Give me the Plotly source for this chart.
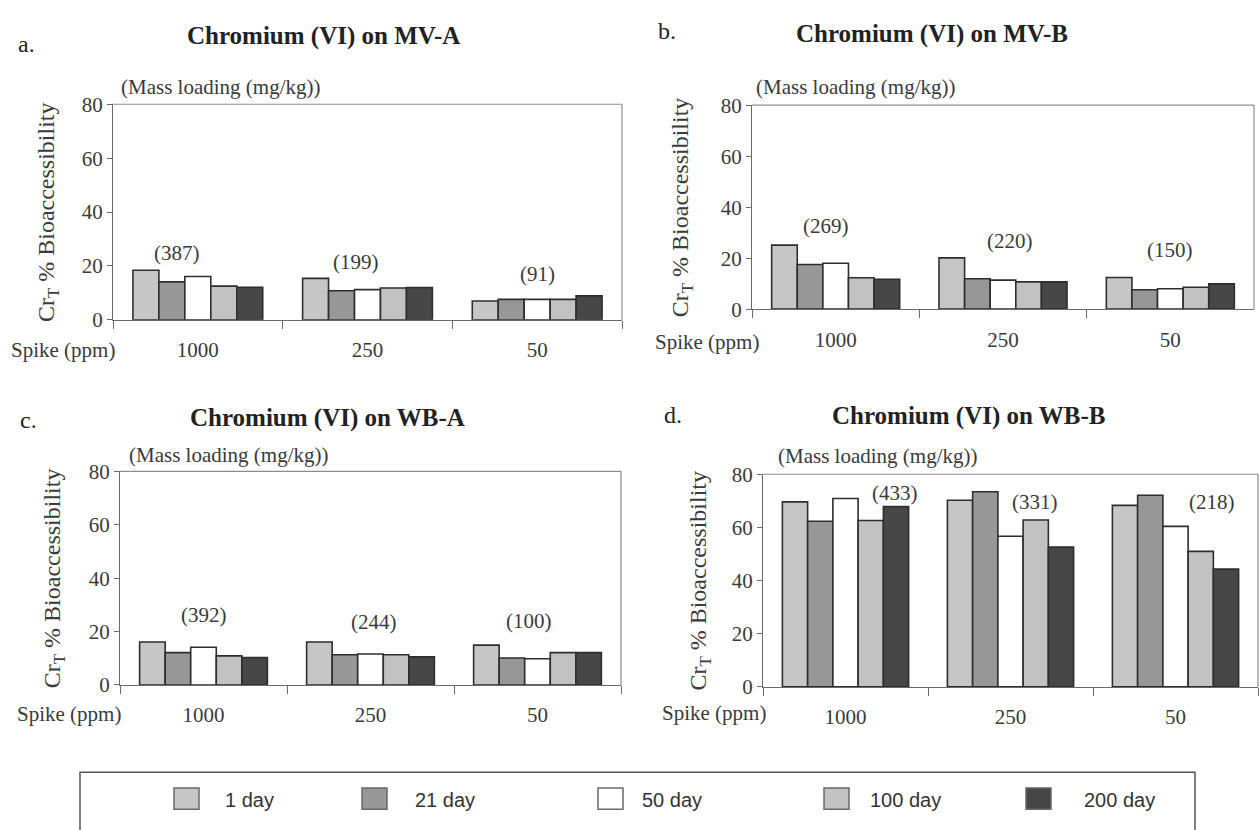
import plotly.graph_objects as go

# ---- data -------------------------------------------------------------
spike_ppm = ["1000", "250", "50"]
ages = ["1 day", "21 day", "50 day", "100 day", "200 day"]

# % bioaccessibility of total Cr, one list per ageing time, ordered by spike level
mv_a = {
    "1 day":   [18.4, 15.4, 7.0],
    "21 day":  [14.1, 10.8, 7.6],
    "50 day":  [16.1, 11.2, 7.6],
    "100 day": [12.5, 11.8, 7.6],
    "200 day": [12.1, 12.0, 8.9],
}
mv_b = {
    "1 day":   [25.1, 20.1, 12.4],
    "21 day":  [17.5, 11.9, 7.6],
    "50 day":  [18.0, 11.4, 8.0],
    "100 day": [12.3, 10.7, 8.6],
    "200 day": [11.7, 10.7, 9.9],
}
wb_a = {
    "1 day":   [16.1, 16.1, 14.9],
    "21 day":  [12.1, 11.3, 10.1],
    "50 day":  [14.1, 11.6, 9.8],
    "100 day": [10.9, 11.3, 12.1],
    "200 day": [10.3, 10.5, 12.1],
}
wb_b = {
    "1 day":   [69.6, 70.2, 68.3],
    "21 day":  [62.3, 73.4, 72.1],
    "50 day":  [70.9, 56.7, 60.4],
    "100 day": [62.6, 62.8, 51.0],
    "200 day": [67.8, 52.6, 44.3],
}

# mass loading (mg/kg) printed above each spike group
load_mv_a = [387, 199, 91]
load_mv_b = [269, 220, 150]
load_wb_a = [392, 244, 100]
load_wb_b = [433, 331, 218]

soil_names = ["MV-A", "MV-B", "WB-A", "WB-B"]
panel_letters = ["a.", "b.", "c.", "d."]

# ---- styling ------------------------------------------------------------
W, H = 1259, 830
SERIF = "Liberation Serif, Times New Roman, serif"
SANS = "Liberation Sans, Arial, sans-serif"
TXT = "#3a3a3a"
AXC = "#6a6a6a"
fills = {
    "1 day": "#c6c6c6",
    "21 day": "#979797",
    "50 day": "#ffffff",
    "100 day": "#c2c2c2",
    "200 day": "#474747",
}


def px(x):
    return x / W


def py(y):
    return 1 - y / H


# plot boxes in pixels: left, right, top(80), bottom(0)
boxes = [
    (113, 622, 95, 317),
    (752, 1254, 96, 306),
    (120, 621, 473, 693),
    (763, 1258, 476, 695),
]
title_pos = [(323, 25), (932, 23), (327, 418), (968, 416)]
letter_pos = [(16, 33), (656, 20), (18, 420), (662, 415)]
mass_pos = [(119, 77), (754, 77), (127, 456), (776, 457)]
spike_pos = [(117, 348), (761, 340), (123, 723), (768, 722)]
ytitle_x = [48, 682, 54, 700]
# where each mass-loading label sits: (category offset, y value)
load_place = [
    [(-0.12, 24.9), (-0.07, 21.3), (0.0, 17.0)],
    [(-0.055, 32.8), (0.04, 26.7), (0.0, 23.2)],
    [(0.0, 26.3), (0.02, 23.5), (-0.05, 24.1)],
    [(0.30, 72.9), (0.15, 69.6), (0.22, 69.6)],
]

datasets = [mv_a, mv_b, wb_a, wb_b]
loads = [load_mv_a, load_mv_b, load_wb_a, load_wb_b]

fig = go.Figure()
annotations = []
shapes = []

for i, (data, load) in enumerate(zip(datasets, loads)):
    n = "" if i == 0 else str(i + 1)
    xa, ya = "x" + n, "y" + n
    for age in ages:
        fig.add_trace(go.Bar(
            x=spike_ppm, y=data[age], name=age,
            xaxis=xa, yaxis=ya, showlegend=False,
            marker=dict(color=fills[age], line=dict(color="#2e2e2e", width=1.6)),
            hoverinfo="x+y+name",
        ))

    x0, x1, ytop, ybot = boxes[i]
    common = dict(
        showline=True, linecolor=AXC, linewidth=1.3, mirror=False,
        showgrid=False, zeroline=False, ticks="outside", tickcolor=AXC,
        tickfont=dict(family=SERIF, size=21, color=TXT),
    )
    fig.layout["xaxis" + n] = dict(
        common, domain=[px(x0), px(x1)], anchor=ya, type="category",
        range=[-0.5, 2.5], tickson="boundaries", ticklen=8,
        ticklabelstandoff=11,
    )
    fig.layout["yaxis" + n] = dict(
        common, domain=[py(ybot), py(ytop)], anchor=xa,
        range=[0, 80], tickvals=[0, 20, 40, 60, 80], ticklen=5,
    )
    # lighter top and right edges of the plot frame
    frame = dict(line=dict(color="#8c8c8c", width=1.2), layer="above")
    shapes.append(dict(frame, type="line", xref=xa + " domain", yref=ya + " domain",
                       x0=0, x1=1, y0=1, y1=1))
    shapes.append(dict(frame, type="line", xref=xa + " domain", yref=ya + " domain",
                       x0=1, x1=1, y0=0, y1=1))

    # panel letter and title
    lx, ly = letter_pos[i]
    annotations.append(dict(
        text=panel_letters[i], x=px(lx), y=py(ly), xref="paper", yref="paper",
        xanchor="left", yanchor="middle", showarrow=False,
        font=dict(family=SERIF, size=24, color="#222"),
    ))
    tx, ty = title_pos[i]
    annotations.append(dict(
        text="<b>Chromium (VI) on " + soil_names[i] + "</b>",
        x=px(tx), y=py(ty), xref="paper", yref="paper",
        xanchor="center", yanchor="middle", showarrow=False,
        font=dict(family=SERIF, size=25, color="#222"),
    ))
    mx, my = mass_pos[i]
    annotations.append(dict(
        text="(Mass loading (mg/kg))", x=px(mx), y=py(my),
        xref="paper", yref="paper", xanchor="left", yanchor="middle",
        showarrow=False, font=dict(family=SERIF, size=21, color=TXT),
    ))
    sx, sy = spike_pos[i]
    annotations.append(dict(
        text="Spike (ppm)", x=px(sx), y=py(sy), xref="paper", yref="paper",
        xanchor="right", yanchor="middle", showarrow=False,
        font=dict(family=SERIF, size=21, color=TXT),
    ))
    annotations.append(dict(
        text="Cr<sub>T</sub> % Bioaccessibility", textangle=-90,
        x=px(ytitle_x[i]), y=py((ytop + ybot) / 2), xref="paper", yref="paper",
        xanchor="center", yanchor="middle", showarrow=False,
        font=dict(family=SERIF, size=24, color=TXT),
    ))
    # mass loading values above the groups
    for k, val in enumerate(load):
        dx, yv = load_place[i][k]
        annotations.append(dict(
            text="(%d)" % val, x=k + dx, y=yv, xref=xa, yref=ya,
            xanchor="center", yanchor="middle", showarrow=False,
            font=dict(family=SERIF, size=21, color=TXT),
        ))

# ---- legend box along the bottom ------------------------------------------
shapes.append(dict(
    type="rect", xref="paper", yref="paper",
    x0=px(80), x1=px(1195), y0=py(845), y1=py(783),
    line=dict(color="#555", width=1.5), fillcolor="rgba(0,0,0,0)",
))
swatch_left = [174, 362, 598, 824, 1026]
text_left = [223, 413, 640, 868, 1082]
for age, sl, tl in zip(ages, swatch_left, text_left):
    shapes.append(dict(
        type="rect", xref="paper", yref="paper",
        x0=px(sl), x1=px(sl + 25), y0=py(821), y1=py(799),
        line=dict(color="#6a6a6a", width=1.5), fillcolor=fills[age],
    ))
    annotations.append(dict(
        text=age, x=px(tl), y=py(811), xref="paper", yref="paper",
        xanchor="left", yanchor="middle", showarrow=False,
        font=dict(family=SANS, size=20, color="#333"),
    ))

fig.update_layout(
    width=W, height=H, autosize=False,
    margin=dict(l=0, r=0, t=0, b=0),
    paper_bgcolor="white", plot_bgcolor="white",
    barmode="group", bargap=0.235, bargroupgap=0,
    annotations=annotations, shapes=shapes,
)

fig.write_html("out.html")
